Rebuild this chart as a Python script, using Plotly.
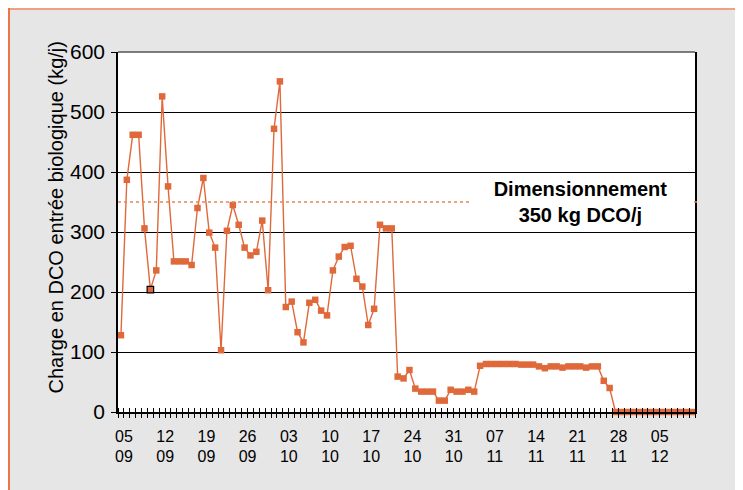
import plotly.graph_objects as go

# Daily DCO load (kg/j), 05/09 -> 11/12
charge = [128, 387, 462, 462, 306, 204, 236, 526, 376, 251,
          251, 251, 245, 340, 390, 299, 274, 103, 302, 345,
          312, 274, 261, 267, 319, 203, 472, 551, 175, 184,
          133, 116, 182, 187, 169, 161, 236, 259, 275, 277,
          222, 209, 145, 172, 312, 306, 306, 59, 56, 70,
          39, 34, 34, 34, 19, 19, 37, 34, 34, 37,
          34, 77, 80, 80, 80, 80, 80, 80, 79, 79,
          79, 76, 73, 76, 76, 74, 76, 76, 76, 74,
          76, 76, 52, 40, 0, 0, 0, 0, 0, 0,
          0, 0, 0, 0, 0, 0, 0, 0]
days = list(range(len(charge)))
tick_days = [0, 7, 14, 21, 28, 35, 42, 49, 56, 63, 70, 77, 84, 91]
tick_day_labels = ["05", "12", "19", "26", "03", "10", "17", "24", "31", "07", "14", "21", "28", "05"]
tick_month_labels = ["09", "09", "09", "09", "10", "10", "10", "10", "10", "11", "11", "11", "11", "12"]
highlight_day = 5
design_capacity = 350
design_label = "<b>Dimensionnement<br>350 kg DCO/j</b>"
y_title = "Charge en DCO entrée biologique (kg/j)"

ORANGE = "#E0693B"
FONT = "Liberation Sans, Arial, sans-serif"

fig = go.Figure()
fig.add_trace(go.Scatter(
    x=days, y=charge, mode="lines+markers",
    line=dict(color=ORANGE, width=1.4),
    marker=dict(symbol="square", size=6.5, color=ORANGE,
                line=dict(color=["black" if d == highlight_day else ORANGE for d in days],
                          width=[1.2 if d == highlight_day else 0 for d in days])),
    cliponaxis=False, showlegend=False,
))
# invisible trace on overlay axis (month labels + inward minor ticks)
fig.add_trace(go.Scatter(x=[days[0], days[-1]], y=[0, 0], xaxis="x2", mode="none",
                         showlegend=False, hoverinfo="skip"))

# page offset of 8 px (body margin) -> figure coordinates
W, H = 743, 490
L, R, T, B = 110, 56, 44, 86
pw, ph = W - L - R, H - T - B
def px(xp):
    return (xp - L) / pw
def py(yp):
    return (H - B - yp) / ph

fig.add_shape(type="line", xref="paper", yref="y", x0=0, x1=px(691),
              y0=design_capacity, y1=design_capacity,
              line=dict(color="#E8855A", width=1.5, dash="dot"))

fig.add_shape(type="line", xref="paper", yref="paper", x0=px(0), x1=px(W), y0=py(1), y1=py(1),
              line=dict(color="#F0A080", width=2))
fig.add_shape(type="line", xref="paper", yref="paper", x0=px(1), x1=px(1), y0=py(0), y1=py(H),
              line=dict(color="#E87848", width=2))
# top border of plot
fig.add_shape(type="line", xref="paper", yref="paper", x0=0, x1=1, y0=1, y1=1,
              line=dict(color="#555555", width=1.5))

fig.add_annotation(xref="paper", yref="y", x=px(572), y=design_capacity,
                   xanchor="center", yanchor="middle",
                   text=design_label, showarrow=False, bgcolor="white",
                   width=219, height=54, font=dict(family=FONT, size=20, color="black"))
fig.add_annotation(xref="paper", yref="paper", x=px(47), y=py(209.5), text=y_title,
                   xanchor="center", yanchor="middle",
                   textangle=-90, showarrow=False, font=dict(family=FONT, size=20, color="black"))

fig.update_layout(
    width=W, height=H, margin=dict(l=L, r=R, t=T, b=B),
    paper_bgcolor="#E6E6E6", plot_bgcolor="white",
    font=dict(family=FONT, color="black"),
    xaxis=dict(range=[-0.5, len(days) - 0.5], tickmode="array", tickvals=tick_days,
               ticktext=tick_day_labels, ticks="", showgrid=False, zeroline=False,
               showline=True, linecolor="black", linewidth=1.5,
               tickfont=dict(size=16), ticklabelstandoff=9, ticklabelshift=3,
               minor=dict(tick0=-0.5, dtick=1, ticks="outside", ticklen=4,
                          tickcolor="black", tickwidth=1, showgrid=False)),
    xaxis2=dict(overlaying="x", anchor="y", side="bottom", range=[-0.5, len(days) - 0.5],
                tickmode="array", tickvals=tick_days, ticktext=tick_month_labels,
                tickfont=dict(size=16), ticklabelstandoff=33, ticklabelshift=3,
                ticks="", showgrid=False, zeroline=False, showline=False,
                minor=dict(tick0=-0.5, dtick=1, ticks="inside", ticklen=4,
                           tickcolor="black", tickwidth=1, showgrid=False)),
    yaxis=dict(range=[0, 600], tickvals=[0, 100, 200, 300, 400, 500, 600],
               ticks="outside", ticklen=5, tickcolor="black",
               showgrid=True, gridcolor="black", gridwidth=1.2,
               zeroline=False, showline=True, linecolor="black", linewidth=1.5,
               mirror=True, tickfont=dict(size=21), ticklabelstandoff=2),
)

fig.write_html("out.html")
